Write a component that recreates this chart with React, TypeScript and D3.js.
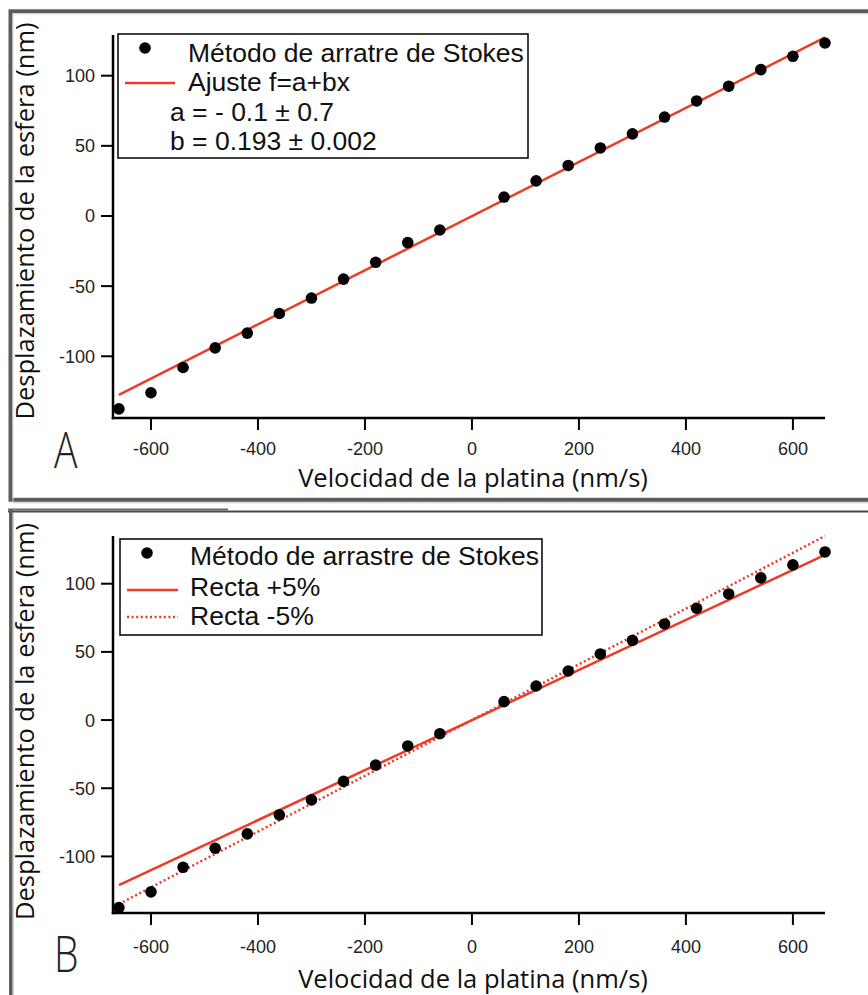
import React from "react";
import * as d3 from "d3";

// ---- data ----
const velocities = [-660, -600, -540, -480, -420, -360, -300, -240, -180, -120, -60, 60, 120, 180, 240, 300, 360, 420, 480, 540, 600, 660];
const displacements = [-137.5, -126, -108, -94, -83.5, -69.5, -58.5, -45, -33, -19, -10, 13.5, 25, 36, 48.5, 58.5, 70.5, 82, 92.5, 104.3, 113.8, 123.3];
const fitIntercept = -0.1;
const fitSlope = 0.193;
const slopePlus5 = 0.1835; // "Recta +5%"
const slopeMinus5 = 0.2045; // "Recta -5%"
const lineRange = [-660, 660];
const xTicks = [-600, -400, -200, 0, 200, 400, 600];
const yTicks = [-100, -50, 0, 50, 100];
const legendA = ["Método de arratre de Stokes", "Ajuste f=a+bx", "a = - 0.1 ± 0.7", "b = 0.193 ± 0.002"];
const legendB = ["Método de arrastre de Stokes", "Recta +5%", "Recta -5%"];
const xTitle = "Velocidad de la platina (nm/s)";
const yTitle = "Desplazamiento de la esfera (nm)";

const RED = "#ec3b28";
const TICKFONT = "'Liberation Sans', Arial, sans-serif";
const TITLEFONT = "'Open Sans', 'Liberation Sans', sans-serif";
const LEGSIZE = 26.5;

type PanelProps = {
  label: string;
  xRange: [number, number];
  yDomain: [number, number];
  yRange: [number, number];
  tickBaseline: number;
  titleBaseline: number;
  yTitleCenter: number;
  labelY: number;
  children: (x: d3.ScaleLinear<number, number>, y: d3.ScaleLinear<number, number>) => React.ReactNode;
};

function Panel(p: PanelProps) {
  const x = d3.scaleLinear().domain([-671, 660]).range(p.xRange);
  const y = d3.scaleLinear().domain(p.yDomain).range(p.yRange);
  const [x0, x1] = p.xRange;
  const [yb, yt] = p.yRange;
  return (
    <g>
      <line x1={x0} x2={x0} y1={yt} y2={yb + 1.25} stroke="#000" strokeWidth={2.5} />
      <line x1={x0 - 1.25} x2={x1} y1={yb} y2={yb} stroke="#000" strokeWidth={2.5} />
      {xTicks.map((t) => (
        <g key={"x" + t}>
          <line x1={x(t)} x2={x(t)} y1={yb} y2={yb + 12} stroke="#000" strokeWidth={2} />
          <text x={x(t)} y={p.tickBaseline} textAnchor="middle" fontFamily={TICKFONT} fontSize={18} fill="#222">
            {t}
          </text>
        </g>
      ))}
      {yTicks.map((t) => (
        <g key={"y" + t}>
          <line x1={x0 - 12} x2={x0} y1={y(t)} y2={y(t)} stroke="#000" strokeWidth={2} />
          <text x={x0 - 18} y={y(t) + 6.5} textAnchor="end" fontFamily={TICKFONT} fontSize={18} fill="#222">
            {t}
          </text>
        </g>
      ))}
      <text x={473} y={p.titleBaseline} textAnchor="middle" fontFamily={TITLEFONT} fontSize={25.5} fill="#111">
        {xTitle}
      </text>
      <text
        transform={`translate(34,${p.yTitleCenter}) rotate(-90)`}
        textAnchor="middle"
        fontFamily={TITLEFONT}
        fontSize={25.5}
        fill="#111"
      >
        {yTitle}
      </text>
      <text
        transform={`translate(54,${p.labelY}) scale(0.78,1)`}
        fontFamily={TITLEFONT}
        fontWeight={300}
        fontSize={50}
        fill="#222"
      >
        {p.label}
      </text>
      {p.children(x, y)}
    </g>
  );
}

function Dots({ x, y }: { x: d3.ScaleLinear<number, number>; y: d3.ScaleLinear<number, number> }) {
  return (
    <g>
      {velocities.map((v, i) => (
        <circle key={i} cx={x(v)} cy={y(displacements[i])} r={5.8} fill="#000" />
      ))}
    </g>
  );
}

function LineFn({ x, y, a, b, dotted }: { x: any; y: any; a: number; b: number; dotted?: boolean }) {
  const gen = d3
    .line<number>()
    .x((v) => x(v))
    .y((v) => y(a + b * v));
  return (
    <path
      d={gen(lineRange) || ""}
      fill="none"
      stroke={RED}
      strokeWidth={2.5}
      strokeDasharray={dotted ? "2,2.6" : undefined}
    />
  );
}

export default function App() {
  return (
    <svg width={868} height={995} style={{ position: "absolute", left: 0, top: 0, background: "#fff" }}>
      <rect x={0} y={0} width={868} height={995} fill="#fff" />
      <rect x={10.5} y={11.3} width={880} height={488.5} fill="none" stroke="#5e5a5a" strokeWidth={4} />
      <rect x={13} y={13.8} width={880} height={489} fill="none" stroke="#d0d0d0" strokeWidth={1} />
      <line x1={8} x2={868} y1={511.5} y2={511.5} stroke="#4a4a4a" strokeWidth={2} />
      <line x1={8} x2={228} y1={509.5} y2={509.5} stroke="#6a6a6a" strokeWidth={2} />
      <line x1={10.8} x2={10.8} y1={510} y2={995} stroke="#5e5a5a" strokeWidth={3.5} />
      <line x1={13.5} x2={13.5} y1={513} y2={995} stroke="#d0d0d0" strokeWidth={1} />

      <Panel
        label="A"
        xRange={[113, 825]}
        yDomain={[-144, 129]}
        yRange={[418, 35]}
        tickBaseline={455}
        titleBaseline={487}
        yTitleCenter={221}
        labelY={468}
      >
        {(x, y) => (
          <g>
            <LineFn x={x} y={y} a={fitIntercept} b={fitSlope} />
            <Dots x={x} y={y} />
            <rect x={118} y={34} width={410} height={124} fill="#fff" stroke="#000" strokeWidth={1.5} />
            <circle cx={145} cy={48} r={5.8} fill="#000" />
            <line x1={125} x2={175} y1={83} y2={83} stroke={RED} strokeWidth={2.5} />
            <text x={188} y={62} fontFamily={TICKFONT} fontSize={LEGSIZE} fill="#111">{legendA[0]}</text>
            <text x={188} y={91} fontFamily={TICKFONT} fontSize={LEGSIZE} fill="#111">{legendA[1]}</text>
            <text x={170} y={121} fontFamily={TICKFONT} fontSize={LEGSIZE} fill="#111">{legendA[2]}</text>
            <text x={170} y={150} fontFamily={TICKFONT} fontSize={LEGSIZE} fill="#111">{legendA[3]}</text>
          </g>
        )}
      </Panel>

      <Panel
        label="B"
        xRange={[113, 825]}
        yDomain={[-141.5, 135]}
        yRange={[913, 536]}
        tickBaseline={953}
        titleBaseline={987.5}
        yTitleCenter={721.5}
        labelY={972}
      >
        {(x, y) => (
          <g>
            <LineFn x={x} y={y} a={0} b={slopePlus5} />
            <LineFn x={x} y={y} a={0} b={slopeMinus5} dotted />
            <Dots x={x} y={y} />
            <rect x={120} y={539} width={422} height={96} fill="#fff" stroke="#000" strokeWidth={1.5} />
            <circle cx={147} cy={553} r={5.8} fill="#000" />
            <line x1={127} x2={178} y1={590} y2={590} stroke={RED} strokeWidth={2.5} />
            <line x1={127} x2={178} y1={617} y2={617} stroke={RED} strokeWidth={2.5} strokeDasharray="2,2.6" />
            <text x={190} y={565} fontFamily={TICKFONT} fontSize={LEGSIZE} fill="#111">{legendB[0]}</text>
            <text x={190} y={596} fontFamily={TICKFONT} fontSize={LEGSIZE} fill="#111">{legendB[1]}</text>
            <text x={190} y={625} fontFamily={TICKFONT} fontSize={LEGSIZE} fill="#111">{legendB[2]}</text>
          </g>
        )}
      </Panel>
    </svg>
  );
}
